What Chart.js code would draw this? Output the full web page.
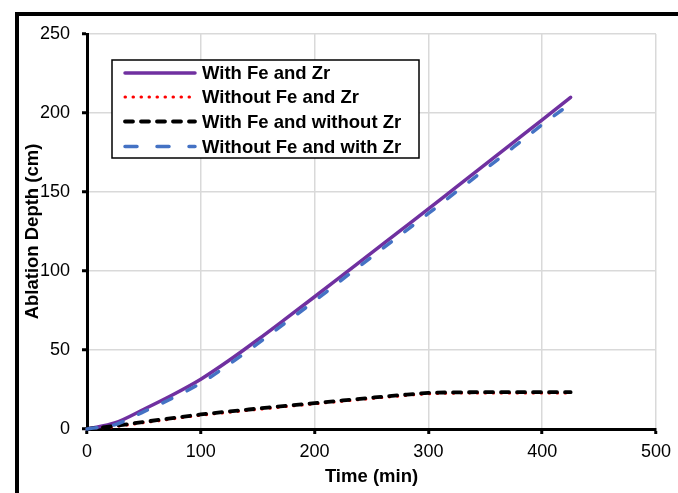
<!DOCTYPE html>
<html lang="en">
<head>
<meta charset="UTF-8">
<title>Ablation Depth</title>
<script src="https://cdn.jsdelivr.net/npm/chart.js"></script>
<style>
  body { margin: 0; background: #fff; }
  #wrap { position: relative; width: 678px; height: 493px; overflow: hidden; }
  #frame { position: absolute; left: 15px; top: 12px; width: 700px; height: 520px;
           border-left: 4px solid #000; border-top: 4px solid #000; }
  #chart { position: absolute; left: 0; top: 0; }
</style>
</head>
<body>
<div id="wrap">
  <div id="frame"></div>
  <canvas id="chart" width="678" height="493"></canvas>
</div>
<script>
  // time axis (min) and series values (cm)
  const times = [0, 25, 50, 75, 100, 125, 150, 175, 200, 225, 250, 275, 300, 325, 350, 375, 400, 425];
  const withFeZr = [0, 4, 12.5, 21.5, 31.5, 43.5, 56.5, 70, 83.7, 97.6, 111.5, 125.4, 139.3, 153.4, 167.5, 181.6, 195.7, 209.9];
  const withoutFeZr = [0, 1.6, 4, 6.4, 8.7, 10.6, 12.4, 14.2, 15.9, 17.6, 19.3, 20.9, 22.3, 22.7, 22.8, 22.8, 22.8, 22.8];
  const withFeNoZr = [0, 2, 4.5, 6.9, 9.2, 11.1, 12.9, 14.7, 16.4, 18.1, 19.8, 21.4, 22.8, 23.2, 23.3, 23.3, 23.3, 23.3];
  const noFeWithZr = [0, 2.8, 11, 19.5, 29, 41, 54, 67.5, 81, 95, 108.8, 122.6, 136.4, 150.4, 164.4, 178.5, 192.6, 206];

  const xTicks = [0, 100, 200, 300, 400, 500];
  const yTicks = [0, 50, 100, 150, 200, 250];

  const FONT = "'Liberation Sans', Arial, sans-serif";

  function pts(vals) {
    return times.map((t, i) => ({ x: t, y: vals[i] }));
  }

  // legend drawn as a boxed overlay inside the plot, like the original
  const boxLegend = {
    id: 'boxLegend',
    afterDraw(chart) {
      const ctx = chart.ctx;
      const x0 = 112, y0 = 60, w = 307, h = 98;
      ctx.save();
      ctx.fillStyle = '#fff';
      ctx.fillRect(x0, y0, w, h);
      ctx.strokeStyle = '#000';
      ctx.lineWidth = 1.5;
      ctx.strokeRect(x0, y0, w, h);
      const rows = [73, 97, 121.5, 146.5];
      chart.data.datasets.forEach((ds, i) => {
        const y = rows[i];
        ctx.beginPath();
        ctx.strokeStyle = ds.borderColor;
        ctx.lineWidth = ds.borderWidth;
        ctx.lineCap = ds.borderCapStyle || 'butt';
        ctx.setLineDash(ds.legendDash || ds.borderDash || []);
        ctx.moveTo(125, y);
        ctx.lineTo(195, y);
        ctx.stroke();
        ctx.setLineDash([]);
        ctx.fillStyle = '#000';
        ctx.font = 'bold 18.5px ' + FONT;
        ctx.textBaseline = 'middle';
        ctx.textAlign = 'left';
        ctx.fillText(ds.label, 202, y + 1);
      });
      ctx.restore();
    }
  };

  new Chart(document.getElementById('chart'), {
    type: 'line',
    data: {
      datasets: [
        {
          label: 'With Fe and Zr',
          data: pts(withFeZr),
          borderColor: '#7030A0',
          borderWidth: 3.5,
          borderCapStyle: 'round',
          order: 3
        },
        {
          label: 'Without Fe and Zr',
          data: pts(withoutFeZr),
          borderColor: '#FF0000',
          borderWidth: 3,
          borderDash: [0.5, 7.5],
          borderCapStyle: 'round',
          order: 2
        },
        {
          label: 'With Fe and without Zr',
          data: pts(withFeNoZr),
          borderColor: '#000000',
          borderWidth: 3.8,
          borderDash: [8, 8],
          borderCapStyle: 'round',
          order: 1
        },
        {
          label: 'Without Fe and with Zr',
          data: pts(noFeWithZr),
          borderColor: '#4472C4',
          borderWidth: 3.5,
          borderDash: [10, 17],
          legendDash: [12, 20],
          borderCapStyle: 'round',
          order: 0
        }
      ]
    },
    options: {
      responsive: false,
      animation: false,
      devicePixelRatio: 1,
      layout: { padding: { left: 22, right: 20, top: 34, bottom: 5 } },
      elements: {
        point: { radius: 0 },
        line: { cubicInterpolationMode: 'monotone', fill: false }
      },
      datasets: { line: { clip: false } },
      plugins: {
        legend: { display: false },
        tooltip: { enabled: false }
      },
      scales: {
        x: {
          type: 'linear',
          min: xTicks[0],
          max: xTicks[xTicks.length - 1],
          afterFit: s => { s.height = 59; },
          afterBuildTicks: s => { s.ticks = xTicks.map(v => ({ value: v })); },
          grid: { color: '#d9d9d9', lineWidth: 1.5, tickColor: '#000', tickWidth: 3, tickLength: 5 },
          border: { color: '#000', width: 3 },
          ticks: { color: '#000', padding: 7, font: { family: FONT, size: 18 } },
          title: {
            display: true, text: 'Time (min)', color: '#000', padding: 0,
            font: { family: FONT, size: 18.5, weight: 'bold' }
          }
        },
        y: {
          type: 'linear',
          min: yTicks[0],
          max: yTicks[yTicks.length - 1],
          afterFit: s => { s.width = 65; },
          afterBuildTicks: s => { s.ticks = yTicks.map(v => ({ value: v })); },
          grid: { color: '#d9d9d9', lineWidth: 1.5, tickColor: '#000', tickWidth: 3, tickLength: 5 },
          border: { color: '#000', width: 3 },
          ticks: { color: '#000', padding: 12, font: { family: FONT, size: 18 } },
          title: {
            display: true, text: 'Ablation Depth (cm)', color: '#000', padding: 0,
            font: { family: FONT, size: 18.5, weight: 'bold' }
          }
        }
      }
    },
    plugins: [boxLegend]
  });
</script>
</body>
</html>
